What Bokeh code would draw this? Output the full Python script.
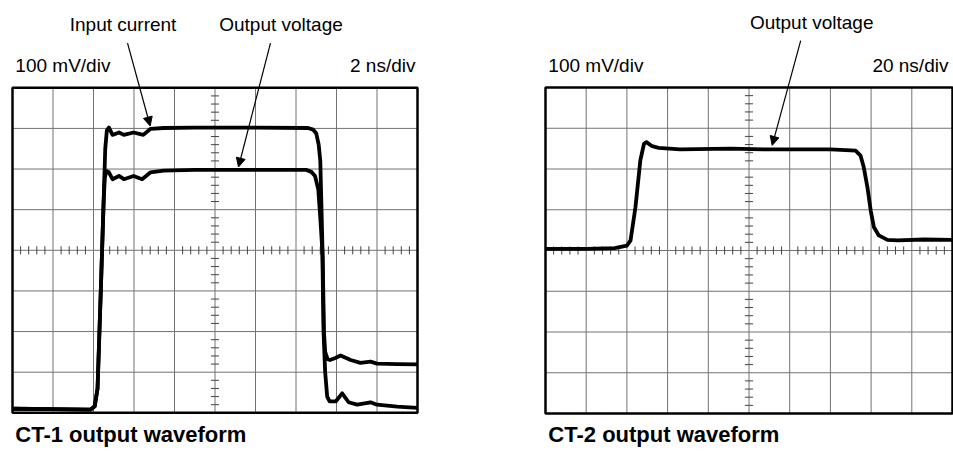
from bokeh.plotting import figure
from bokeh.models import Range1d, Label, Arrow, NormalHead
from bokeh.layouts import row
from bokeh.embed import file_html
from bokeh.resources import INLINE

# ---------------- data (screen divisions) ----------------
# CT-1 panel, 2 ns/div, 100 mV/div
ct1_input_x = [0.0, 1.0, 1.93, 2.03, 2.10, 2.18, 2.25, 2.29, 2.33, 2.38, 2.47, 2.63, 2.75,
               2.99, 3.23, 3.41, 3.73, 4.5, 6.0, 7.30, 7.42, 7.50, 7.56, 7.60, 7.63, 7.66,
               7.69, 7.72, 7.78, 7.84, 7.97, 8.10, 8.35, 8.59, 8.84, 9.0, 9.5, 10.0]
ct1_input_y = [-3.90, -3.91, -3.92, -3.84, -3.40, -1.0, 1.2, 2.5, 2.95, 3.02, 2.84, 2.90, 2.84,
               2.90, 2.84, 2.99, 3.01, 3.02, 3.02, 3.01, 2.97, 2.88, 2.6, 2.2, 1.0, -0.2,
               -2.0, -2.5, -2.68, -2.70, -2.65, -2.59, -2.70, -2.77, -2.74, -2.79, -2.80, -2.81]

ct1_output_x = [0.0, 1.0, 1.93, 2.03, 2.10, 2.18, 2.25, 2.28, 2.32, 2.38, 2.47, 2.63, 2.75,
                2.99, 3.20, 3.41, 3.73, 4.5, 6.0, 7.25, 7.38, 7.47, 7.55, 7.60, 7.65, 7.68,
                7.72, 7.77, 7.83, 7.98, 8.14, 8.30, 8.51, 8.84, 9.0, 9.5, 10.0]
ct1_output_y = [-3.90, -3.91, -3.92, -3.84, -3.40, -1.0, 1.2, 1.8, 1.95, 1.92, 1.75, 1.83, 1.75,
                1.83, 1.75, 1.92, 1.96, 1.98, 1.98, 1.98, 1.93, 1.83, 1.5, 0.8, 0.0, -2.0,
                -3.0, -3.6, -3.72, -3.72, -3.52, -3.74, -3.80, -3.74, -3.80, -3.85, -3.88]

# CT-2 panel, 20 ns/div, 100 mV/div
ct2_output_x = [0.0, 1.0, 1.7, 2.0, 2.09, 2.21, 2.33, 2.42, 2.48, 2.62, 2.78, 3.31, 4.54, 5.36,
                7.0, 7.62, 7.74, 7.82, 7.91, 7.99, 8.07, 8.19, 8.40, 8.65, 9.3, 10.0]
ct2_output_y = [0.04, 0.04, 0.06, 0.12, 0.25, 1.06, 2.21, 2.62, 2.66, 2.56, 2.52, 2.48, 2.50, 2.48,
                2.48, 2.45, 2.33, 2.04, 1.55, 0.98, 0.57, 0.37, 0.26, 0.25, 0.27, 0.26]

# graticule
x_divs = list(range(0, 11))
y_divs = list(range(-4, 5))
minor_x = [i / 5 for i in range(1, 50) if i % 5 != 0]
minor_y = [i / 5 - 4 for i in range(1, 40) if i % 5 != 0]

# texts
ct1_scale_left = "100 mV/div"
ct1_scale_right = "2 ns/div"
ct2_scale_left = "100 mV/div"
ct2_scale_right = "20 ns/div"
ct1_title = "CT-1 output waveform"
ct2_title = "CT-2 output waveform"
label_input = "Input current"
label_output = "Output voltage"

FONT = "Liberation Sans"
GRID = "#737373"


def scope(width, height, x_range, y_range):
    p = figure(width=width, height=height, x_range=Range1d(*x_range), y_range=Range1d(*y_range),
               output_backend="svg", toolbar_location=None, min_border=0,
               x_axis_location=None, y_axis_location=None)
    p.grid.visible = False
    p.outline_line_color = None
    p.background_fill_color = "white"
    p.border_fill_color = "white"
    # grid lines
    p.segment(x0=x_divs, y0=[-4] * len(x_divs), x1=x_divs, y1=[4] * len(x_divs),
              line_color=GRID, line_width=1)
    p.segment(x0=[0] * len(y_divs), y0=y_divs, x1=[10] * len(y_divs), y1=y_divs,
              line_color=GRID, line_width=1)
    # minor ticks on centre lines
    p.segment(x0=minor_x, y0=[-0.1] * len(minor_x), x1=minor_x, y1=[0.1] * len(minor_x),
              line_color="#444444", line_width=1)
    p.segment(x0=[4.9] * len(minor_y), y0=minor_y, x1=[5.1] * len(minor_y), y1=minor_y,
              line_color="#444444", line_width=1)
    # border
    p.quad(left=[0], right=[10], bottom=[-4], top=[4], fill_color=None,
           line_color="black", line_width=2.5)
    return p


def txt(p, x, y, text, align="left", size="19px", style="normal"):
    p.add_layout(Label(x=x, y=y, text=text, text_align=align, text_baseline="alphabetic",
                       text_font=FONT, text_font_size=size, text_font_style=style,
                       text_color="black"))


def arrow(p, x0, y0, x1, y1):
    p.add_layout(Arrow(end=NormalHead(size=9, fill_color="black", line_color="black", line_width=1),
                       x_start=x0, y_start=y0, x_end=x1, y_end=y1,
                       line_color="black", line_width=1.2))


H = 453
# left panel: grid at page x 12..417 (40.5 px/div), y 87..412
W1 = 538
dx1 = 40.5
dy = 40.63
cy = 249.8
p1 = scope(W1, H, ((0 - 12) / dx1, (W1 - 12) / dx1),
           ((cy - H) / dy, cy / dy))
p1.line(ct1_input_x, ct1_input_y, line_color="black", line_width=3.8, line_join="round")
p1.line(ct1_output_x, ct1_output_y, line_color="black", line_width=3.8, line_join="round")
txt(p1, 0.07, 4.55, ct1_scale_left)
txt(p1, 9.95, 4.55, ct1_scale_right, align="right")
txt(p1, 2.73, 5.56, label_input, align="center")
txt(p1, 6.63, 5.56, label_output, align="center")
txt(p1, 0.07, -4.53, ct1_title, size="22px", style="bold")
arrow(p1, 2.84, 5.10, 3.40, 3.06)
arrow(p1, 6.37, 5.10, 5.58, 2.05)

# right panel: grid at page x 545..952, y 87..413
W2 = 953 - W1
dx2 = 40.7
dy2 = 40.75
cy2 = 250.0
x0_page = W1
p2 = scope(W2, H, ((x0_page - 545) / dx2, (x0_page + W2 - 545) / dx2),
           ((cy2 - H) / dy2, cy2 / dy2))
p2.line(ct2_output_x, ct2_output_y, line_color="black", line_width=3.8, line_join="round")
txt(p2, 0.07, 4.55, ct2_scale_left)
txt(p2, 9.9, 4.55, ct2_scale_right, align="right")
txt(p2, 6.54, 5.59, label_output, align="center")
txt(p2, 0.07, -4.52, ct2_title, size="22px", style="bold")
arrow(p2, 6.27, 5.15, 5.57, 2.58)

layout = row(p1, p2, spacing=0)
open("out.html", "w").write(file_html(layout, INLINE))
